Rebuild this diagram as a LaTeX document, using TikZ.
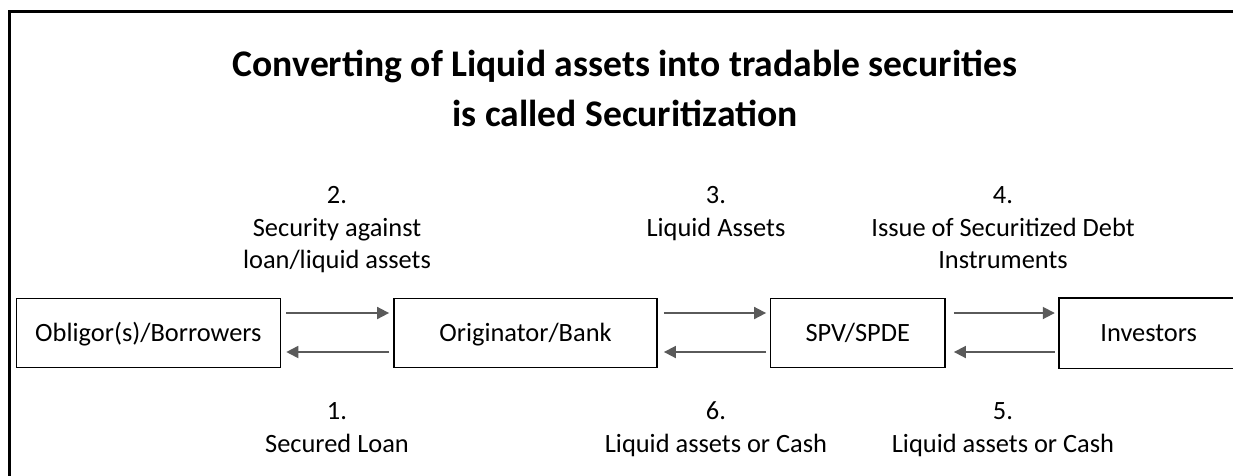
\documentclass[tikz,border=0pt]{standalone}
\usepackage{fontspec}
\setmainfont{Carlito}
\usetikzlibrary{arrows.meta}
\definecolor{arrgray}{HTML}{5A5A5A}
\tikzset{
  box/.style={draw=black, line width=1.8pt, minimum height=69pt, inner sep=0pt,
    text height=16.5pt, text depth=0pt, font=\fontsize{26.4}{32}\selectfont},
  openbox/.style={box, draw=none},
  edge/.style={draw=black, line width=1.8pt},
  arr/.style={draw=arrgray, line width=1.8pt, -{Triangle[length=12pt,width=12pt]}},
  lbl/.style={anchor=base, inner sep=0pt, font=\fontsize{26.4}{32}\selectfont},
  ttl/.style={anchor=base, inner sep=0pt, font=\fontsize{37.6}{49}\bfseries\selectfont},
  frame/.style={draw=black, line width=3pt},
}
\begin{document}
\begin{tikzpicture}[x=1pt,y=-1pt]
\useasboundingbox (0,0) rectangle (1233,475);
\fill[white] (0,0) rectangle (1233,475);
\draw[frame] (1240,11) -- (9.5,11) -- (9.5,480);

% title
\node[ttl] (t1) at (625,76) {Converting of Liquid assets into tradable securities};
\node[ttl] (t2) at (625,126) {is called Securitization};

% boxes
\node[box, minimum width=264pt] (A) at (148.4,333) {Obligor(s)/Borrowers};
\node[box, minimum width=263pt] (B) at (525.5,333) {Originator/Bank};
\node[box, minimum width=174.5pt] (C) at (857.75,333) {SPV/SPDE};
\node[openbox, minimum width=178pt] (D) at (1148.7,333) {Investors};
\draw[edge] ([xshift=60pt]D.north east) -- (D.north west) -- (D.south west) -- ([xshift=60pt]D.south east);

% arrows
\draw[arr] ([xshift=5pt,yshift=20pt]A.east) -- ([xshift=-4pt,yshift=20pt]B.west);
\draw[arr] ([xshift=-4pt,yshift=-19pt]B.west) -- ([xshift=5pt,yshift=-19pt]A.east);
\draw[arr] ([xshift=6pt,yshift=20pt]B.east) -- ([xshift=-3.5pt,yshift=20pt]C.west);
\draw[arr] ([xshift=-3.5pt,yshift=-19pt]C.west) -- ([xshift=6pt,yshift=-19pt]B.east);
\draw[arr] ([xshift=8pt,yshift=20pt]C.east) -- ([xshift=-4pt,yshift=20pt]D.west);
\draw[arr] ([xshift=-4pt,yshift=-19pt]D.west) -- ([xshift=8pt,yshift=-19pt]C.east);

% labels above
\node[lbl] (n2) at (337,203) {2.};
\node[lbl] (l2a) at (337,236) {Security against};
\node[lbl] (l2b) at (337,268) {loan/liquid assets};
\node[lbl] (n3) at (716,203) {3.};
\node[lbl] (l3a) at (716,236) {Liquid Assets};
\node[lbl] (n4) at (1003,203) {4.};
\node[lbl] (l4a) at (1003,236) {Issue of Securitized Debt};
\node[lbl] (l4b) at (1003,268) {Instruments};

% labels below
\node[lbl] (n1) at (337,419) {1.};
\node[lbl] (l1a) at (337,452) {Secured Loan};
\node[lbl] (n6) at (716,419) {6.};
\node[lbl] (l6a) at (716,452) {Liquid assets or Cash};
\node[lbl] (n5) at (1003,419) {5.};
\node[lbl] (l5a) at (1003,452) {Liquid assets or Cash};
\end{tikzpicture}
\end{document}
